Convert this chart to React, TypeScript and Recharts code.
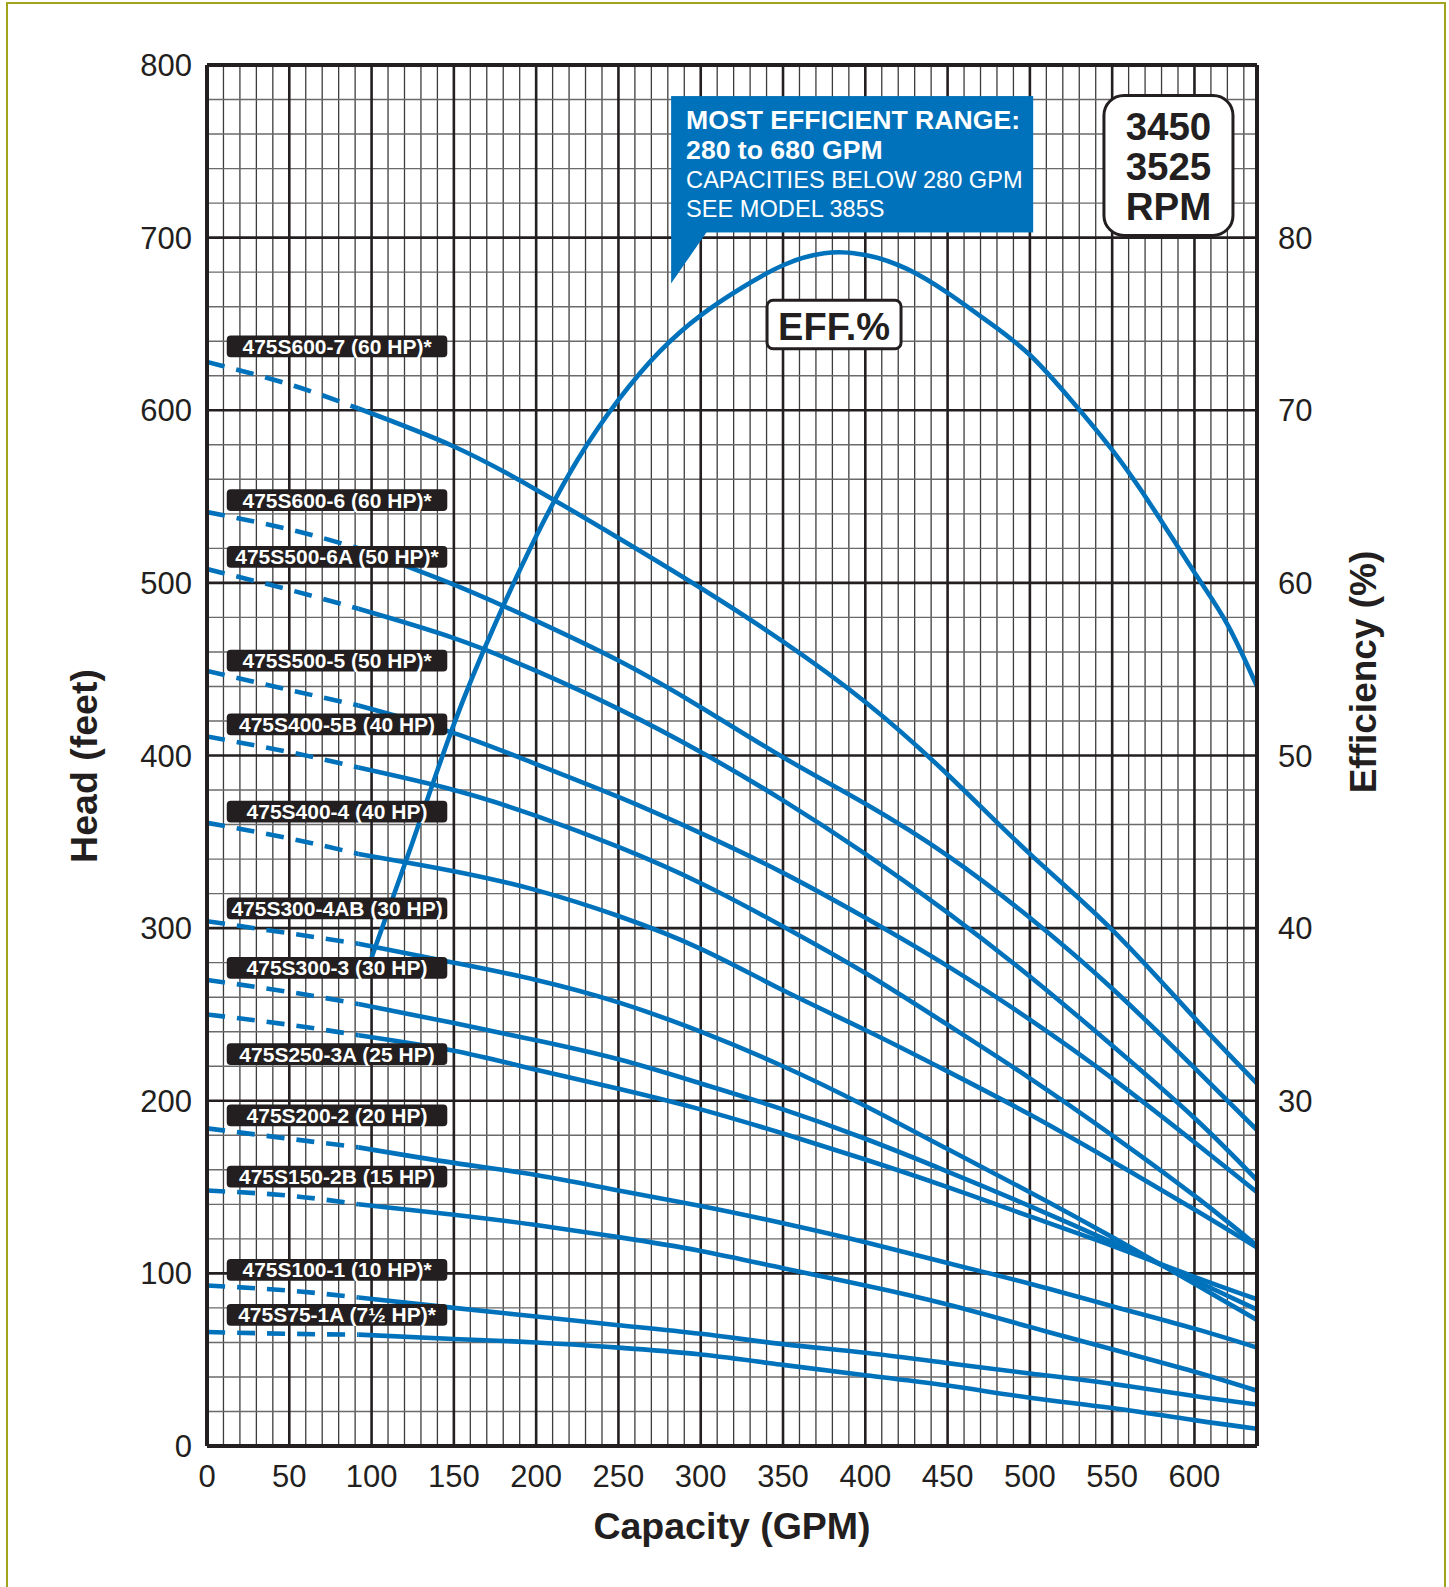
import { LineChart, Line, XAxis, YAxis, CartesianGrid, ReferenceArea, ReferenceLine } from 'recharts';

const FONT = "'Liberation Sans', Arial, Helvetica, sans-serif";
const INK = '#231f20';
const BLUE = '#0072bc';
const OLIVE = '#a2a41c';

// ── Data ──────────────────────────────────────────────────────────────────────

// capacity (GPM) where each head curve was read; the first three points are the dashed low-flow part
const gpmPoints = [0, 50, 92, 150, 200, 250, 300, 350, 400, 450, 500, 550, 600, 638];

const head600_7 = [628, 615, 601, 579, 554, 526, 497, 466, 431, 389, 343, 299, 248, 210];
const head600_6 = [541, 531, 520, 499, 478, 455, 428, 399, 372, 342, 306, 265, 219, 183];
const head500_6A = [508, 496, 485, 468, 449, 427, 402, 374, 343, 309, 272, 232, 190, 154];
const head500_5 = [449, 438, 429, 413, 395, 376, 355, 332, 306, 278, 247, 213, 176, 147];
const head400_5B = [411, 402, 393, 380, 365, 347, 326, 301, 274, 244, 213, 180, 145, 116];
const head400_4 = [361, 352, 343, 333, 322, 307, 288, 264, 241, 217, 192, 165, 137, 115];
const head300_4AB = [304, 297, 291, 280, 270, 257, 240, 220, 197, 172, 147, 121, 94, 73];
const head300_3 = [270, 263, 256, 245, 235, 224, 210, 195, 178, 159, 139, 118, 96, 79];
const head250_3A = [250, 244, 238, 229, 218, 207, 195, 181, 166, 150, 133, 116, 98, 85];
const head200_2 = [184, 178, 173, 164, 157, 148, 139, 129, 118, 106, 94, 81, 68, 57];
const head150_2B = [148, 145, 140, 134, 128, 121, 113, 103, 93, 82, 69, 56, 43, 32];
const head100_1 = [93, 90, 86, 80, 75, 70, 65, 59, 54, 48, 42, 36, 29, 24];
const head75_1A = [66, 65, 64.5, 62, 60, 57, 53, 47, 41, 35, 28, 22, 15, 10];

const modelNames = [
  '475S600-7 (60 HP)*',
  '475S600-6 (60 HP)*',
  '475S500-6A (50 HP)*',
  '475S500-5 (50 HP)*',
  '475S400-5B (40 HP)',
  '475S400-4 (40 HP)',
  '475S300-4AB (30 HP)',
  '475S300-3 (30 HP)',
  '475S250-3A (25 HP)',
  '475S200-2 (20 HP)',
  '475S150-2B (15 HP)',
  '475S100-1 (10 HP)*',
  '475S75-1A (7½ HP)*',
];
const modelHeads = [
  head600_7, head600_6, head500_6A, head500_5, head400_5B, head400_4, head300_4AB,
  head300_3, head250_3A, head200_2, head150_2B, head100_1, head75_1A,
];
// head (ft) at the centre of each black name tag
const tagHeads = [637, 548, 515, 455, 418, 367.5, 311.5, 277, 227, 191.5, 156, 102, 76];

// efficiency curve (right axis)
const effGpm = [100, 125, 150, 175, 200, 225, 250, 275, 300, 325, 350, 375, 400, 425, 450, 475, 500, 525, 550, 575, 600, 620, 638];
const effPct = [38.3, 45.0, 51.8, 57.6, 62.7, 67.1, 70.6, 73.4, 75.5, 77.1, 78.4, 79.1, 79.0, 78.2, 76.8, 75.1, 73.2, 70.6, 67.7, 64.3, 60.6, 57.6, 54.0];

const gpmTicks = [0, 50, 100, 150, 200, 250, 300, 350, 400, 450, 500, 550, 600];
const headTicks = [0, 100, 200, 300, 400, 500, 600, 700, 800];
const effTicks = [30, 40, 50, 60, 70, 80];

// grid values
const minorGpm = Array.from({ length: 63 }, (_, i) => (i + 1) * 10).filter((v) => v % 50 !== 0);
const majorGpm = gpmTicks.filter((v) => v > 0);
const minorHead = Array.from({ length: 39 }, (_, i) => (i + 1) * 20).filter((v) => v % 100 !== 0);
const majorHead = headTicks.filter((v) => v > 0 && v < 800);

const series = modelHeads.map((heads) => ({
  dashed: gpmPoints.slice(0, 3).map((gpm, i) => ({ gpm, head: heads[i] })),
  solid: gpmPoints.slice(2).map((gpm, i) => ({ gpm, head: heads[i + 2] })),
}));
const effRows = effGpm.map((gpm, i) => ({ gpm, eff: effPct[i] }));

// ── Annotation shapes ─────────────────────────────────────────────────────────

function ModelTag({ x, y, width, height, text }: any) {
  return (
    <g>
      <rect x={x} y={y} width={width} height={height} rx={4} fill={INK} />
      <text x={x + width / 2} y={y + height / 2 + 7.5} textAnchor="middle" fill="#fff"
        fontSize={21} fontWeight={700} fontFamily={FONT}>{text}</text>
    </g>
  );
}

function Callout({ x, y, width, height }: any) {
  const b = y + height;
  return (
    <g>
      <rect x={x} y={y} width={width} height={height} fill={BLUE} />
      <polygon points={`${x},${b - 1} ${x + 36},${b - 1} ${x},${b + 51}`} fill={BLUE} />
      <text x={x + 15} y={y + 33} fill="#fff" fontSize={26.6} fontWeight={700} fontFamily={FONT}>MOST EFFICIENT RANGE:</text>
      <text x={x + 15} y={y + 62.5} fill="#fff" fontSize={26.6} fontWeight={700} fontFamily={FONT}>280 to 680 GPM</text>
      <text x={x + 15} y={y + 92} fill="#fff" fontSize={23.6} fontFamily={FONT}>CAPACITIES BELOW 280 GPM</text>
      <text x={x + 15} y={y + 121} fill="#fff" fontSize={23.6} fontFamily={FONT}>SEE MODEL 385S</text>
    </g>
  );
}

function RpmBox({ x, y, width, height }: any) {
  const cx = x + width / 2;
  const t = { textAnchor: 'middle' as const, fill: INK, fontSize: 38.5, fontWeight: 700, fontFamily: FONT };
  return (
    <g>
      <rect x={x} y={y} width={width} height={height} rx={20} fill="#fff" stroke={INK} strokeWidth={3} />
      <text x={cx} y={y + 45} {...t}>3450</text>
      <text x={cx} y={y + 85} {...t}>3525</text>
      <text x={cx} y={y + 125} {...t}>RPM</text>
    </g>
  );
}

function EffBox({ x, y, width, height }: any) {
  return (
    <g>
      <rect x={x} y={y} width={width} height={height} rx={6} fill="#fff" stroke={INK} strokeWidth={3} />
      <text x={x + width / 2} y={y + 40} textAnchor="middle" fill={INK} fontSize={38}
        fontWeight={700} fontFamily={FONT}>EFF.%</text>
    </g>
  );
}

// ── Axis titles ───────────────────────────────────────────────────────────────

function CapacityTitle(props: any) {
  const vb = props.viewBox || { x: 207, y: 1446, width: 1050 };
  return (
    <text x={vb.x + vb.width / 2} y={vb.y + 93} textAnchor="middle" fill={INK}
      fontSize={37.5} fontWeight={700} fontFamily={FONT}>Capacity (GPM)</text>
  );
}

function HeadTitle(props: any) {
  const vb = props.viewBox || { x: 0, y: 65 };
  const x = vb.x + 97;
  const y = vb.y + 701;
  return (
    <text x={x} y={y} transform={`rotate(-90 ${x} ${y})`} textAnchor="middle" fill={INK}
      fontSize={37.5} fontWeight={700} fontFamily={FONT}>Head (feet)</text>
  );
}

function EffTitle(props: any) {
  const vb = props.viewBox || { x: 1257, y: 65 };
  const x = vb.x + 118.5;
  const y = vb.y + 607;
  return (
    <text x={x} y={y} transform={`rotate(-90 ${x} ${y})`} textAnchor="middle" fill={INK}
      fontSize={37} fontWeight={700} fontFamily={FONT}>Efficiency (%)</text>
  );
}

// ── Chart ─────────────────────────────────────────────────────────────────────

const tickStyle = { fontSize: 31, fill: INK, fontFamily: FONT };
const CURVE_W = 4.6;

export default function App() {
  return (
    <div style={{ position: 'absolute', left: 0, top: 0, width: 1449, height: 1587, background: '#fff', overflow: 'hidden' }}>
      <div style={{
        position: 'absolute', left: 5.5, top: 1.5, width: 1440, height: 1640,
        border: `2.5px solid ${OLIVE}`, boxSizing: 'border-box',
      }} />
      <LineChart width={1449} height={1587} margin={{ top: 65, right: 0, bottom: 0, left: 0 }}
        style={{ position: 'absolute', left: 0, top: 0 }}>
        <CartesianGrid yAxisId="head" horizontal={false} verticalValues={minorGpm}
          stroke="#3d3d3d" strokeWidth={1.3} />
        <CartesianGrid yAxisId="head" vertical={false} horizontalValues={minorHead}
          stroke="#6a6a6a" strokeWidth={1.4} />
        <CartesianGrid yAxisId="head" verticalValues={majorGpm} horizontalValues={majorHead}
          stroke={INK} strokeWidth={2.6} />

        {series.flatMap((s, i) => [
          <Line key={`d${i}`} data={s.dashed} yAxisId="head" dataKey="head" type="natural"
            stroke={BLUE} strokeWidth={CURVE_W} strokeDasharray="18 12" dot={false} activeDot={false}
            isAnimationActive={false} />,
          <Line key={`s${i}`} data={s.solid} yAxisId="head" dataKey="head" type="natural"
            stroke={BLUE} strokeWidth={CURVE_W} dot={false} activeDot={false} isAnimationActive={false} />,
        ])}
        <Line data={effRows} yAxisId="eff" dataKey="eff" type="natural" stroke={BLUE}
          strokeWidth={CURVE_W} dot={false} activeDot={false} isAnimationActive={false} />

        <XAxis dataKey="gpm" type="number" domain={[0, 638]} ticks={gpmTicks} interval={0}
          allowDataOverflow tickLine={false} axisLine={{ stroke: INK, strokeWidth: 4 }}
          tick={tickStyle} tickMargin={13} height={141} label={<CapacityTitle />} />
        <YAxis yAxisId="head" orientation="left" domain={[0, 800]} ticks={headTicks} interval={0}
          allowDataOverflow tickLine={false} axisLine={{ stroke: INK, strokeWidth: 4 }}
          tick={tickStyle} tickMargin={9} width={207} label={<HeadTitle />} />
        <YAxis yAxisId="eff" orientation="right" domain={[10, 90]} ticks={effTicks} interval={0}
          allowDataOverflow tickLine={false} axisLine={{ stroke: INK, strokeWidth: 4 }}
          tick={tickStyle} tickMargin={15} width={192} label={<EffTitle />} />
        <ReferenceLine yAxisId="head" y={800} stroke={INK} strokeWidth={4} />

        {modelNames.map((name, i) => (
          <ReferenceArea key={name} yAxisId="head" x1={12} x2={146} y1={tagHeads[i] - 6.3}
            y2={tagHeads[i] + 6.3} ifOverflow="visible" zIndex={3000}
            shape={(p: any) => <ModelTag {...p} text={name} />} />
        ))}
        <ReferenceArea yAxisId="head" x1={282} x2={502} y1={703} y2={782} ifOverflow="visible"
          zIndex={3000} shape={(p: any) => <Callout {...p} />} />
        <ReferenceArea yAxisId="head" x1={545} x2={623.4} y1={701.3} y2={782.4} ifOverflow="visible"
          zIndex={3000} shape={(p: any) => <RpmBox {...p} />} />
        <ReferenceArea yAxisId="head" x1={340.3} x2={421.7} y1={635.6} y2={663.7} ifOverflow="visible"
          zIndex={3000} shape={(p: any) => <EffBox {...p} />} />
      </LineChart>
    </div>
  );
}
